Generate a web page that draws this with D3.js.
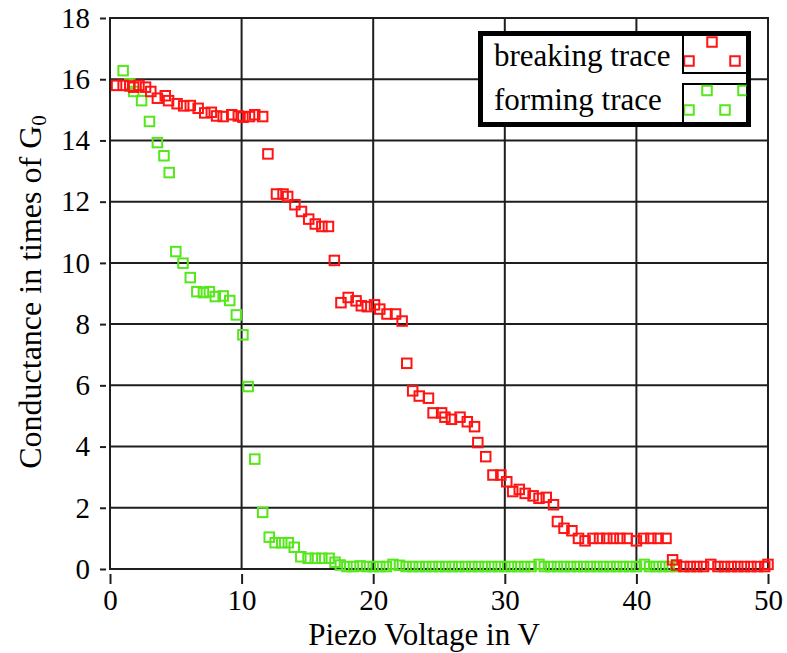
<!DOCTYPE html>
<html>
<head>
<meta charset="utf-8">
<script src="https://cdn.jsdelivr.net/npm/d3@7"></script>
<style>
  html, body { margin: 0; padding: 0; background: #fff; }
  svg { display: block; }
  svg text { font-family: "Liberation Serif", "Times New Roman", serif; fill: #000; }
</style>
</head>
<body>
<svg id="chart" width="787" height="653"></svg>
<script>
// ---------- data ----------
const xTicks = [0, 10, 20, 30, 40, 50];
const yTicks = [0, 2, 4, 6, 8, 10, 12, 14, 16, 18];

const breakingX = [0.5,1.0,1.5,1.8,2.2,2.7,3.1,3.6,4.2,4.45,5.1,5.6,6.1,6.7,7.2,7.7,8.1,8.6,9.25,9.75,
  10.1,10.6,11.0,11.6,12.0,12.65,13.15,13.5,14.05,14.55,15.1,15.6,16.1,16.6,17.05,17.55,18.1,18.7,19.1,19.55,
  20.1,20.5,21.05,21.7,22.2,22.55,23.0,23.5,24.2,24.55,25.2,25.45,25.95,26.6,27.15,27.7,27.95,28.55,29.1,29.7,
  30.15,30.6,31.1,31.55,32.15,32.6,33.15,33.7,34.0,34.5,35.1,35.6,36.1,36.7,37.2,37.75,38.25,38.75,39.3,40.0,
  40.55,41.1,41.65,42.25,42.75,43.05,43.6,44.1,44.6,45.1,45.65,46.2,46.7,47.2,47.7,48.2,48.7,49.2,49.75,50.0];
const breakingG = [15.8,15.8,15.78,15.74,15.8,15.74,15.6,15.38,15.46,15.3,15.2,15.13,15.14,15.05,14.9,14.92,14.8,14.78,14.84,14.8,
  14.76,14.78,14.84,14.78,13.56,12.25,12.25,12.17,11.9,11.68,11.43,11.27,11.19,11.19,10.08,8.7,8.87,8.76,8.6,8.57,
  8.63,8.49,8.33,8.33,8.1,6.72,5.82,5.65,5.58,5.1,5.1,4.96,4.89,4.96,4.81,4.65,4.13,3.67,3.07,3.07,
  2.85,2.53,2.6,2.47,2.39,2.31,2.34,2.1,1.55,1.33,1.25,1.0,0.92,1.0,1.0,1.0,1.0,1.0,1.0,0.92,
  1.0,1.0,1.0,1.0,0.3,0.13,0.08,0.08,0.08,0.08,0.15,0.08,0.08,0.08,0.08,0.08,0.08,0.08,0.08,0.15];

const formingX = [1.0,1.5,1.8,2.4,3.0,3.6,4.1,4.5,5.0,5.55,6.1,6.6,7.1,7.55,8.0,8.6,9.1,9.6,10.1,10.5,
  11.0,11.6,12.1,12.55,13.05,13.55,14.0,14.5,15.05,15.6,16.1,16.65,17.1,17.5,18.0,18.5,19.0,19.5,20.0,20.5,
  21.0,21.5,22.0,22.5,23.0,23.5,24.0,24.5,25.0,25.5,26.0,26.5,27.0,27.5,28.0,28.5,29.0,29.5,30.0,30.5,
  31.0,31.5,32.0,32.6,33.0,33.5,34.0,34.5,35.0,35.5,36.0,36.5,37.0,37.5,38.0,38.5,39.0,39.5,40.0,40.6,
  41.0,41.5,42.0,42.5,43.0];
const formingG = [16.28,15.85,15.6,15.3,14.62,13.93,13.5,12.95,10.37,9.99,9.52,9.06,9.03,9.06,8.9,8.92,8.77,8.3,7.65,5.96,
  3.59,1.85,1.04,0.86,0.86,0.86,0.71,0.4,0.35,0.35,0.35,0.35,0.22,0.13,0.08,0.08,0.1,0.08,0.08,0.08,
  0.08,0.15,0.12,0.08,0.08,0.08,0.08,0.08,0.08,0.08,0.08,0.08,0.08,0.08,0.08,0.08,0.08,0.08,0.08,0.08,
  0.08,0.08,0.08,0.15,0.08,0.08,0.08,0.08,0.08,0.08,0.08,0.08,0.08,0.08,0.08,0.08,0.08,0.08,0.08,0.15,
  0.08,0.08,0.08,0.08,0.08];

const seriesNames = ["breaking trace", "forming trace"];
const seriesColors = ["#ff1414", "#55e61c"];

// ---------- chart ----------
const FONT = "'Liberation Serif', 'Times New Roman', serif";
const svg = d3.select("#chart");
const x = d3.scaleLinear().domain([0, 50]).range([110, 768]);
const y = d3.scaleLinear().domain([0, 18]).range([569, 18]);
const gridColor = "#1e1e1e";

// grid
svg.append("g").selectAll("line").data(xTicks.slice(1, -1)).join("line")
  .attr("x1", d => x(d)).attr("x2", d => x(d)).attr("y1", y(0)).attr("y2", y(18))
  .attr("stroke", gridColor).attr("stroke-width", 2);
svg.append("g").selectAll("line").data(yTicks.slice(1, -1)).join("line")
  .attr("x1", x(0)).attr("x2", x(50)).attr("y1", d => y(d)).attr("y2", d => y(d))
  .attr("stroke", gridColor).attr("stroke-width", 2);
// frame
svg.append("rect").attr("x", x(0)).attr("y", y(18)).attr("width", x(50) - x(0)).attr("height", y(0) - y(18))
  .attr("fill", "none").attr("stroke", gridColor).attr("stroke-width", 2);

// axes
const xAxis = svg.append("g").attr("transform", `translate(0,${y(0) + 5})`)
  .call(d3.axisBottom(x).tickValues(xTicks).tickSize(10).tickPadding(5).tickFormat(d3.format("d")));
xAxis.attr("font-family", FONT).attr("font-size", 29);
xAxis.select(".domain").remove();
xAxis.selectAll(".tick line").attr("stroke", gridColor).attr("stroke-width", 2);

const yAxis = svg.append("g").attr("transform", `translate(${x(0) - 4},0)`)
  .call(d3.axisLeft(y).tickValues(yTicks).tickSize(6).tickPadding(10).tickFormat(d3.format("d")));
yAxis.attr("font-family", FONT).attr("font-size", 29);
yAxis.select(".domain").remove();
yAxis.selectAll(".tick line").attr("stroke", gridColor).attr("stroke-width", 2);

// axis titles
svg.append("text").attr("x", 424).attr("y", 645).attr("text-anchor", "middle")
  .attr("font-family", FONT).attr("font-size", 31).text("Piezo Voltage in V");
const yt = svg.append("text").attr("transform", "translate(41,292) rotate(-90)")
  .attr("text-anchor", "middle").attr("font-family", FONT).attr("font-size", 32);
yt.append("tspan").text("Conductance in times of G");
yt.append("tspan").attr("dy", 5).attr("font-size", 21).text("0");

// markers
const S = 9.5;
function drawSeries(xs, gs, color) {
  const data = xs.map((v, i) => ({ v, g: gs[i] }));
  svg.append("g").selectAll("rect").data(data).join("rect")
    .attr("x", d => x(d.v) - S / 2).attr("y", d => y(d.g) - S / 2)
    .attr("width", S).attr("height", S)
    .attr("fill", "none").attr("stroke", color).attr("stroke-width", 2);
}
drawSeries(formingX, formingG, seriesColors[1]);
drawSeries(breakingX, breakingG, seriesColors[0]);

// legend
const lg = svg.append("g");
lg.append("rect").attr("x", 480.5).attr("y", 33.5).attr("width", 268).attr("height", 91)
  .attr("fill", "#fff").attr("stroke", "#000").attr("stroke-width", 5);
const cells = [{ y0: 36, y1: 73 }, { y0: 84, y1: 122 }];
const defs = svg.append("defs");
cells.forEach((c, i) => {
  defs.append("clipPath").attr("id", "cell" + i).append("rect")
    .attr("x", 684).attr("y", c.y0).attr("width", 62.5).attr("height", c.y1 - c.y0);
});
lg.append("path").attr("d", "M683,36V73H746").attr("fill", "none").attr("stroke", "#000").attr("stroke-width", 2);
lg.append("path").attr("d", "M683,122V84H746").attr("fill", "none").attr("stroke", "#000").attr("stroke-width", 2);
const legendMarks = [
  [[689, 61], [712, 42], [735, 61]],
  [[689, 110], [707, 90.5], [725, 110], [743, 90.5]]
];
legendMarks.forEach((pts, i) => {
  lg.append("g").attr("clip-path", `url(#cell${i})`).selectAll("rect").data(pts).join("rect")
    .attr("x", d => d[0] - S / 2).attr("y", d => d[1] - S / 2).attr("width", S).attr("height", S)
    .attr("fill", "none").attr("stroke", seriesColors[i]).attr("stroke-width", 2);
});
lg.selectAll("text.lt").data(seriesNames).join("text").attr("class", "lt")
  .attr("x", 494).attr("y", (d, i) => [66, 110][i])
  .attr("font-family", FONT).attr("font-size", 31).text(d => d);
</script>
</body>
</html>
